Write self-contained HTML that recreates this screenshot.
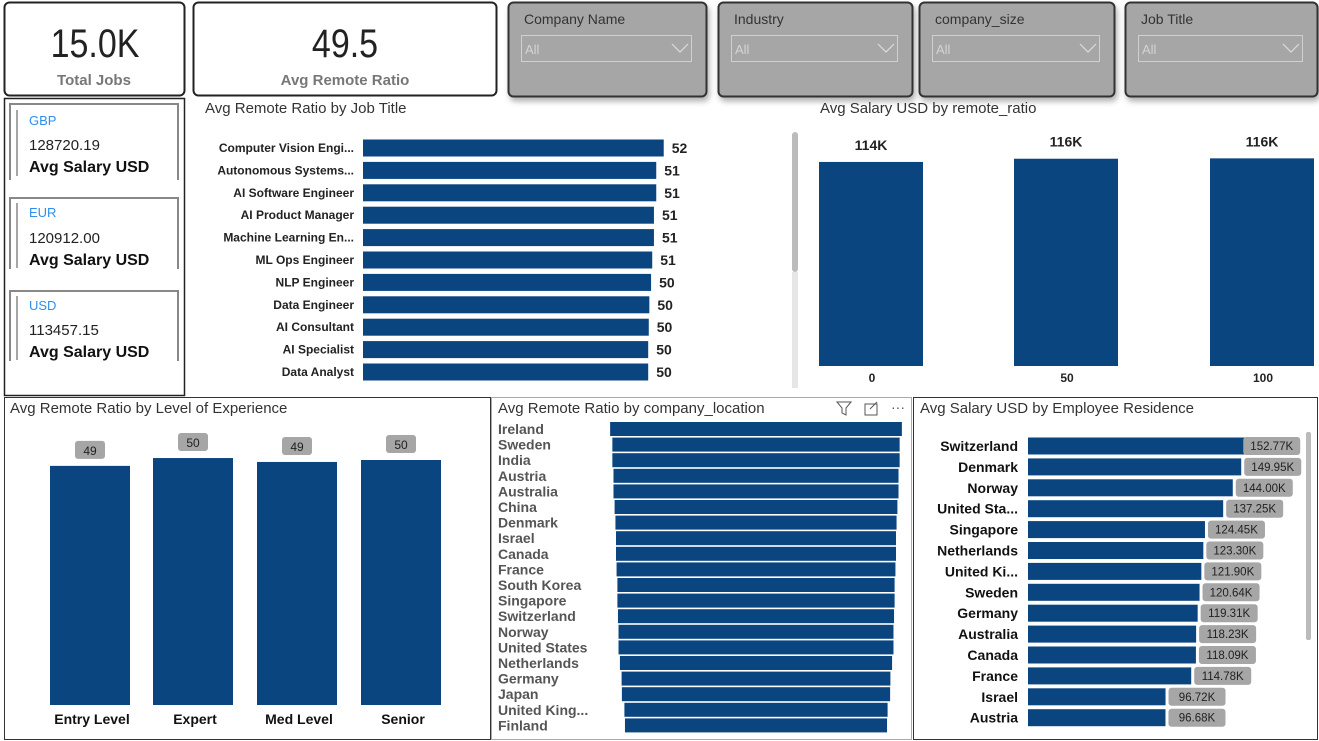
<!DOCTYPE html>
<html><head><meta charset="utf-8">
<style>
body{margin:0;background:#fff;width:1319px;height:741px;overflow:hidden;font-family:"Liberation Sans",sans-serif;}
svg{display:block}
text{font-family:"Liberation Sans",sans-serif}
</style></head>
<body>
<svg id="dash" width="1319" height="741" viewBox="0 0 1319 741" xmlns="http://www.w3.org/2000/svg">
<defs><filter id="sh" x="-10%" y="-10%" width="130%" height="140%"><feDropShadow dx="2" dy="4" stdDeviation="3" flood-color="#000" flood-opacity="0.3"/></filter></defs>
<g>
<rect x="4.5" y="2.5" width="180" height="93" rx="5" fill="#fff" stroke="#222" stroke-width="2"/>
<text x="95" y="57" text-anchor="middle" font-size="40" fill="#222" transform="translate(95 0) scale(0.85 1) translate(-95 0)">15.0K</text>
<text x="94" y="85" text-anchor="middle" font-size="15" font-weight="bold" fill="#777">Total Jobs</text>
</g>
<g>
<rect x="193.5" y="2.5" width="303" height="93" rx="5" fill="#fff" stroke="#222" stroke-width="2"/>
<text x="345" y="57" text-anchor="middle" font-size="40" fill="#222" transform="translate(345 0) scale(0.85 1) translate(-345 0)">49.5</text>
<text x="345" y="85" text-anchor="middle" font-size="15" font-weight="bold" fill="#777">Avg Remote Ratio</text>
</g>
<g id="slicers"></g>
<g>
<rect x="4.5" y="98.5" width="180" height="297" fill="#fff" stroke="#222" stroke-width="1.5"/>
<g>
<path d="M10 180 V104 H178 V180" fill="none" stroke="#888" stroke-width="2"/><line x1="17" y1="110" x2="17" y2="176" stroke="#888" stroke-width="1.5"/>
<text x="29" y="125" font-size="13" fill="#2e8fef">GBP</text><text x="29" y="150" font-size="15" fill="#222">128720.19</text><text x="29" y="172" font-size="16" font-weight="bold" fill="#111">Avg Salary USD</text></g>
<g>
<path d="M10 269 V198 H178 V269" fill="none" stroke="#888" stroke-width="2"/><line x1="17" y1="203" x2="17" y2="268" stroke="#888" stroke-width="1.5"/>
<text x="29" y="217" font-size="13" fill="#2e8fef">EUR</text><text x="29" y="243" font-size="15" fill="#222">120912.00</text><text x="29" y="265" font-size="16" font-weight="bold" fill="#111">Avg Salary USD</text></g>
<g>
<path d="M10 361 V291 H178 V361" fill="none" stroke="#888" stroke-width="2"/><line x1="17" y1="296" x2="17" y2="360" stroke="#888" stroke-width="1.5"/>
<text x="29" y="310" font-size="13" fill="#2e8fef">USD</text><text x="29" y="335" font-size="15" fill="#222">113457.15</text><text x="29" y="357" font-size="16" font-weight="bold" fill="#111">Avg Salary USD</text></g>
</g>
<text x="205" y="113" font-size="15" fill="#333">Avg Remote Ratio by Job Title</text>
<text x="820" y="113" font-size="15" fill="#333">Avg Salary USD by remote_ratio</text>
<rect x="792" y="132" width="6" height="140" rx="3" fill="#bbb"/>
<line x1="795" y1="272" x2="795" y2="388" stroke="#e6e6e6" stroke-width="6"/>
<rect x="4.5" y="397.5" width="486" height="342" fill="none" stroke="#333" stroke-width="1"/>
<text x="10" y="413" font-size="15" fill="#333">Avg Remote Ratio by Level of Experience</text>
<rect x="491.5" y="397.5" width="420" height="342" fill="none" stroke="#aaa" stroke-width="1"/>
<text x="498" y="413" font-size="15" fill="#333">Avg Remote Ratio by company_location</text>
<g><path d="M837 402 H851 L846 408 V415 L842 413 V408 Z" fill="none" stroke="#555" stroke-width="1"/></g>
<g><rect x="865" y="404" width="12" height="11" fill="none" stroke="#555" stroke-width="1"/><path d="M870 409 L877 402" stroke="#555"/></g>
<text x="891" y="412" font-size="14" fill="#555">···</text>
<rect x="913.5" y="397.5" width="404" height="342" fill="none" stroke="#333" stroke-width="1"/>
<text x="920" y="413" font-size="15" fill="#333">Avg Salary USD by Employee Residence</text>
<rect x="1306" y="432" width="5" height="208" rx="2" fill="#bbb"/>
<g id="charts"></g>
</svg>
<script>
const NS="http://www.w3.org/2000/svg";
const BLUE="#0b4580";
function mk(tag,attrs,parent,txt){const e=document.createElementNS(NS,tag);for(const k in attrs)e.setAttribute(k,attrs[k]);if(txt!==undefined)e.textContent=txt;parent.appendChild(e);return e;}
const root=document.getElementById('charts');

const slicerNames=["Company Name","Industry","company_size","Job Title"];
const slicerX=[508,718,919,1125];
const slicerW=[198,194,195,192];
const sl=document.getElementById('slicers');
slicerNames.forEach((n,i)=>{
  const g=mk('g',{},sl);
  
  
  mk('rect',{x:slicerX[i]+0.5,y:2.5,width:slicerW[i],height:94,rx:5,fill:"#a6a6a6",stroke:"#333","stroke-width":2,filter:"url(#sh)"},g);
  mk('text',{x:slicerX[i]+16,y:24,"font-size":14,fill:"#333"},g,n);
  const d=mk('rect',{x:slicerX[i]+13.5,y:35.5,width:slicerW[i]-28,height:26,fill:"none",stroke:"#d0d0d0","stroke-width":1},g);
  
  
  mk('text',{x:slicerX[i]+17,y:54,"font-size":13,fill:"#d4d4d4"},g,"All");
  const x2=slicerX[i]+slicerW[i]-26;
  mk('path',{d:`M${x2-8} 44 L${x2} 52 L${x2+8} 44`,fill:"none",stroke:"#ddd","stroke-width":1.2},g);
});

const jobTitles=["Computer Vision Engi...","Autonomous Systems...","AI Software Engineer","AI Product Manager","Machine Learning En...","ML Ops Engineer","NLP Engineer","Data Engineer","AI Consultant","AI Specialist","Data Analyst"];
const jobRatio=[52.3,51.0,51.0,50.6,50.6,50.3,50.1,49.8,49.7,49.6,49.6];
const jobLabels=["52","51","51","51","51","51","50","50","50","50","50"];
{const x0=363,sc=5.75,y0=148,step=22.4,h=17;
jobTitles.forEach((t,i)=>{const y=y0+i*step;
 const l=mk('text',{x:354,y:y+4,"text-anchor":"end","font-size":12,"font-weight":"bold",fill:"#222"},root,t);
 
 
 const b=mk('rect',{x:x0,y:y-h/2,width:jobRatio[i]*sc,height:h,fill:BLUE},root);
 
 
 const v=mk('text',{x:x0+jobRatio[i]*sc+8,y:y+5,"font-size":14,"font-weight":"bold",fill:"#222"},root,jobLabels[i]);
 
 
});}

const remoteCats=["0","50","100"];
const remoteSalary=[114.0,115.8,116.0];
const remoteLabels=["114K","116K","116K"];
{const xs=[819,1014,1210],w=104,base=366,sc=1.79;
remoteCats.forEach((c,i)=>{const h=remoteSalary[i]*sc;
 const b=mk('rect',{x:xs[i],y:base-h,width:w,height:h,fill:BLUE},root);
 
 
 const v=mk('text',{x:xs[i]+w/2,y:base-h-12,"text-anchor":"middle","font-size":14,"font-weight":"bold",fill:"#222"},root,remoteLabels[i]);
 
 
 const l=mk('text',{x:xs[i]+w/2+1,y:382,"text-anchor":"middle","font-size":12,"font-weight":"bold",fill:"#222"},root,c);
 
 
});}

const expCats=["Entry Level","Expert","Med Level","Senior"];
const expRatio=[48.8,50.4,49.6,50.0];
const expLabels=["49","50","49","50"];
{const xs=[50,153,257,361],w=80,base=705,sc=4.9;
expCats.forEach((c,i)=>{const h=expRatio[i]*sc;
 const b=mk('rect',{x:xs[i],y:base-h,width:w,height:h,fill:BLUE},root);
 
 
 const bg=mk('rect',{x:xs[i]+w/2-15,y:base-h-25,width:30,height:18,rx:3,fill:"#a6a6a6"},root);
 
 
 const v=mk('text',{x:xs[i]+w/2,y:base-h-11,"text-anchor":"middle","font-size":12,fill:"#222"},root,expLabels[i]);
 
 
 const l=mk('text',{x:xs[i]+w/2+2,y:724,"text-anchor":"middle","font-size":14,"font-weight":"bold",fill:"#111"},root,c);
 
 
});}

const locCats=["Ireland","Sweden","India","Austria","Australia","China","Denmark","Israel","Canada","France","South Korea","Singapore","Switzerland","Norway","United States","Netherlands","Germany","Japan","United King...","Finland"];
const locRatio=[52.1,51.3,51.3,50.9,50.9,50.5,50.2,50.0,50.0,49.8,49.5,49.5,49.3,49.1,49.1,48.6,48.0,47.9,47.0,46.8];
{const cx=756,sc=5.6,y0=429,step=15.6,h=14;
locCats.forEach((c,i)=>{const y=y0+i*step,w=locRatio[i]*sc;
 const b=mk('rect',{x:cx-w/2,y:y-h/2,width:w,height:h,fill:BLUE},root);
 
 
 const l=mk('text',{x:498,y:y+5,"font-size":14,"font-weight":"bold",fill:"#555"},root,c);
 
 
});}

const resCats=["Switzerland","Denmark","Norway","United Sta...","Singapore","Netherlands","United Ki...","Sweden","Germany","Australia","Canada","France","Israel","Austria"];
const resSalary=[152.77,149.95,144.00,137.25,124.45,123.30,121.90,120.64,119.31,118.23,118.09,114.78,96.72,96.68];
const resLabels=["152.77K","149.95K","144.00K","137.25K","124.45K","123.30K","121.90K","120.64K","119.31K","118.23K","118.09K","114.78K","96.72K","96.68K"];
{const x0=1028,sc=1.422,y0=446,step=20.9,h=17;
resCats.forEach((c,i)=>{const y=y0+i*step,w=resSalary[i]*sc;
 const l=mk('text',{x:1018,y:y+5,"text-anchor":"end","font-size":14,"font-weight":"bold",fill:"#111"},root,c);
 
 
 const b=mk('rect',{x:x0,y:y-h/2,width:w,height:h,fill:BLUE},root);
 
 
 const bx=i==0?x0+w-2:x0+w+3;
 const bg=mk('rect',{x:bx,y:y-9,width:57,height:18,rx:3,fill:"#a6a6a6"},root);
 
 
 const v=mk('text',{x:bx+28.5,y:y+4,"text-anchor":"middle","font-size":11.5,fill:"#222"},root,resLabels[i]);
 
 
});}
</script>
</body></html>
